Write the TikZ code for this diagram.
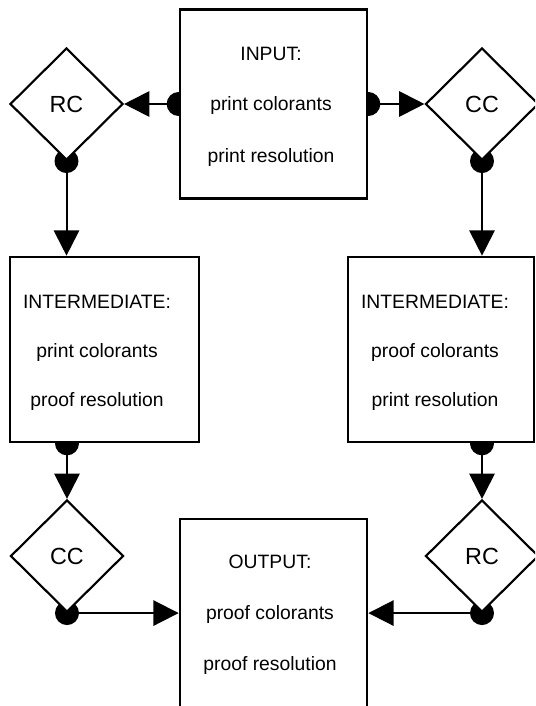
\documentclass[tikz,border=0pt]{standalone}
\usepackage{fontspec}
\setmainfont{Liberation Sans}
\usetikzlibrary{shapes.geometric,arrows.meta}
\pgfdeclarelayer{bg}
\pgfsetlayers{bg,main}
\begin{document}
\begin{tikzpicture}[x=0.75pt,y=-0.75pt,
  box/.style={draw, line width=2pt, fill=white, inner sep=0pt},
  dia/.style={diamond, draw, line width=1.6pt, fill=white, inner sep=0pt,
    minimum width=84.75pt, minimum height=84pt,
    font=\fontsize{17.5}{20}\selectfont},
  txt/.style={font=\fontsize{14.5}{17}\selectfont, anchor=base, inner sep=0pt},
  conn/.style={line width=1.5pt, -{Triangle[length=19pt,width=19pt]}},
  dot/.style={fill=black}]
\useasboundingbox (0,0) rectangle (535,706);
\clip (0,0) rectangle (535,706);
% boxes
\node[box, minimum width=140.25pt, minimum height=141.75pt] (in) at (273.5,104) {};
\node[box, minimum width=141.75pt, minimum height=138.75pt] (iL) at (104.5,349.5) {};
\node[box, minimum width=139.5pt, minimum height=138.75pt] (iR) at (441,349.5) {};
\node[box, minimum width=140.25pt, minimum height=157.5pt] (out) at (273.5,624) {};
% diamonds
\node[dia] (rc1) at (66.5,104) {RC};
\node[dia] (cc1) at (482,104) {CC};
\node[dia] (cc2) at (67,556) {CC};
\node[dia] (rc2) at (482,556) {RC};
% texts
\node[txt] (inA) at (271,61) {INPUT:};
\node[txt] (inB) at (271,111) {print colorants};
\node[txt] (inC) at (271,162) {print resolution};
\node[txt] (lA) at (97,308) {INTERMEDIATE:};
\node[txt] (lB) at (97,357) {print colorants};
\node[txt] (lC) at (97,406) {proof resolution};
\node[txt] (rA) at (435,308) {INTERMEDIATE:};
\node[txt] (rB) at (435,357) {proof colorants};
\node[txt] (rC) at (435,406) {print resolution};
\node[txt] (oA) at (270,568) {OUTPUT:};
\node[txt] (oB) at (270,619) {proof colorants};
\node[txt] (oC) at (270,670) {proof resolution};
% connectors
\begin{pgfonlayer}{bg}
\coordinate (p1) at (in.west);
\coordinate (p2) at (in.east);
\coordinate (p3) at (rc1.south);
\coordinate (p4) at (cc1.south);
\coordinate (p5) at (cc2.north |- iL.south);
\coordinate (p6) at (rc2.north |- iR.south);
\coordinate (p7) at (cc2.south);
\coordinate (p8) at (rc2.south);
\foreach \p in {p1,p2,p3,p4,p5,p6,p7,p8}
  \fill[dot] (\p) circle[radius=9pt];
\draw[conn] (p1) -- (rc1.east);
\draw[conn] (p2) -- (cc1.west);
\draw[conn] (p3) -- (p3 |- iL.north);
\draw[conn] (p4) -- (p4 |- iR.north);
\draw[conn] (p5) -- (cc2.north);
\draw[conn] (p6) -- (rc2.north);
\draw[conn] (p7) -- (p7 -| out.west);
\draw[conn] (p8) -- (p8 -| out.east);
\end{pgfonlayer}
\end{tikzpicture}
\end{document}
